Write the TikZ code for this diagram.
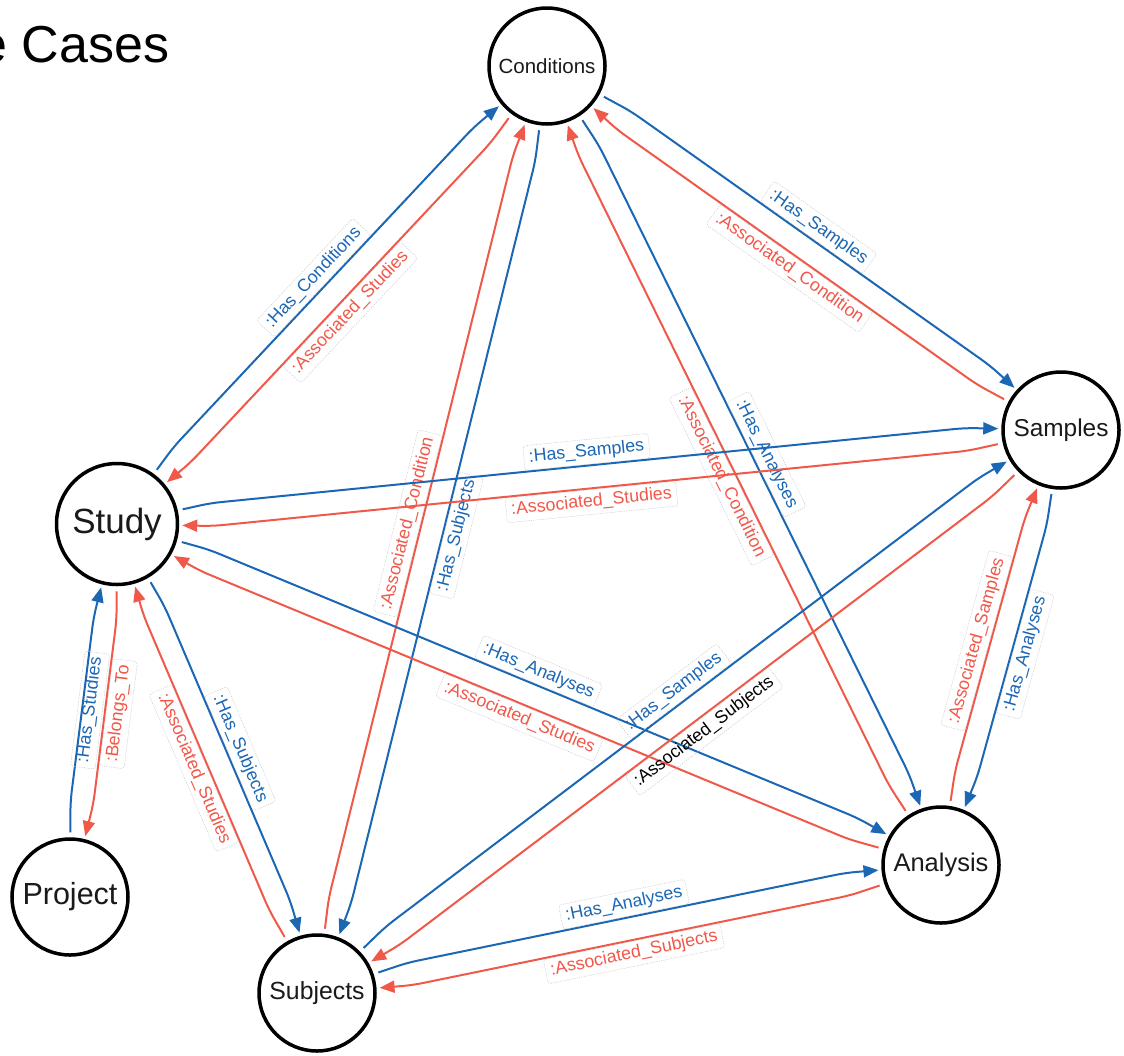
\documentclass[tikz,border=0pt]{standalone}
\usepackage{fontspec}
\setmainfont{Liberation Sans}
\usetikzlibrary{calc,arrows.meta}
\definecolor{relblue}{HTML}{1B67B4}
\definecolor{relred}{HTML}{F0584A}
\definecolor{ink}{HTML}{1A1A1A}
\newcommand\bendA{95pt}
\newcommand\offD{11.5pt}
\newcommand\reledge[5]{\draw[rel,#3] (#1) -- ($(#1)!\bendA!(#2)!\offD!90:(#2)$) -- node[lbl,#4]{#5} ($(#2)!\bendA!(#1)!\offD!-90:(#1)$) -- (#2);}
\begin{document}
\begin{tikzpicture}[x=1pt,y=-1pt,
  ent/.style={circle,draw=black,line width=3.5pt,fill=white,minimum size=116pt,inner sep=0pt,text=ink},
  rel/.style={line width=2pt,rounded corners=10pt,shorten <=5pt,shorten >=3pt,-{Triangle[length=15pt,width=12pt]}},
  lbl/.style={sloped,draw=black!22,dash pattern=on 1.2pt off 1.2pt,line width=0.5pt,rounded corners=3pt,
    font=\fontsize{17.8}{21}\selectfont,inner xsep=5pt,inner ysep=4pt,text height=13pt,text depth=3.8pt}]
\useasboundingbox (0,0) rectangle (1124,1055);
\node[font=\fontsize{52}{60}\selectfont,anchor=base east,inner sep=0pt,text=black] (title) at (169.5,62) {e Cases};
\node[ent,font=\fontsize{20.5}{24}\selectfont] (cond) at (547,66) {Conditions};
\node[ent,font=\fontsize{24.4}{28}\selectfont] (samp) at (1061,430) {Samples};
\node[ent,minimum size=121pt,font=\fontsize{35}{40}\selectfont] (study) at (117,524) {Study};
\node[ent,font=\fontsize{30.5}{34}\selectfont] (proj) at (70,897) {Project};
\node[ent,font=\fontsize{24.8}{28}\selectfont] (subj) at (317,993) {Subjects};
\node[ent,font=\fontsize{25.5}{29}\selectfont] (anal) at (941,865) {Analysis};
\reledge{study}{cond}{relblue}{above=1pt}{:Has\_Conditions}
\reledge{cond}{study}{relred}{below=1pt}{:Associated\_Studies}
\reledge{cond}{samp}{relblue}{above=1pt}{:Has\_Samples}
\reledge{samp}{cond}{relred}{below=1pt}{:Associated\_Condition}
\reledge{cond}{anal}{relblue}{above=1pt}{:Has\_Analyses}
\reledge{anal}{cond}{relred}{below=1pt}{:Associated\_Condition}
\reledge{cond}{subj}{relblue}{below=1pt}{:Has\_Subjects}
\reledge{subj}{cond}{relred}{above=1pt}{:Associated\_Condition}
\reledge{study}{samp}{relblue}{above=1pt}{:Has\_Samples}
\reledge{samp}{study}{relred}{below=1pt}{:Associated\_Studies}
\reledge{study}{anal}{relblue}{above=1pt}{:Has\_Analyses}
\reledge{anal}{study}{relred}{below=1pt}{:Associated\_Studies}
\reledge{study}{subj}{relblue}{above=1pt}{:Has\_Subjects}
\reledge{subj}{study}{relred}{below=1pt}{:Associated\_Studies}
\reledge{proj}{study}{relblue}{yshift=-8pt}{:Has\_Studies}
\reledge{study}{proj}{relred}{below=1pt}{:Belongs\_To}
\reledge{subj}{samp}{relblue}{above=1pt}{:Has\_Samples}
\reledge{samp}{subj}{relred}{below=1pt,text=black}{:Associated\_Subjects}
\reledge{samp}{anal}{relblue}{below=1pt}{:Has\_Analyses}
\reledge{anal}{samp}{relred}{above=1pt}{:Associated\_Samples}
\reledge{subj}{anal}{relblue}{above=1pt}{:Has\_Analyses}
\reledge{anal}{subj}{relred}{below=1pt}{:Associated\_Subjects}
\end{tikzpicture}
\end{document}
